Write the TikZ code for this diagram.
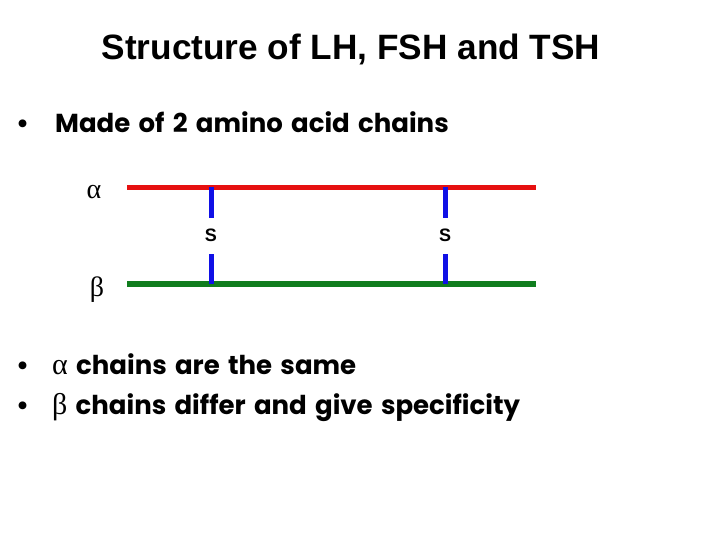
\documentclass[tikz,border=0pt]{standalone}
\usepackage{fontspec}
\setmainfont{Liberation Sans}
\newfontfamily\bodyfont{Poppins}[WordSpace=1.5]
\newfontfamily\greekfont{Liberation Serif}
\definecolor{chainred}{RGB}{230,16,16}
\definecolor{chaingreen}{RGB}{16,125,30}
\definecolor{bondblue}{RGB}{16,16,230}
\begin{document}
\begin{tikzpicture}[x=1pt,y=-1pt,
  title/.style={font=\fontsize{35.2}{38}\selectfont\bfseries, anchor=base},
  body/.style={font=\bodyfont\bfseries\fontsize{26}{28}\selectfont, anchor=base west, inner sep=0pt},
  bul/.style={font=\bodyfont\bfseries\fontsize{26}{28}\selectfont, anchor=base west, inner sep=0pt},
  greek/.style={font=\greekfont\fontsize{28}{30}\selectfont, inner sep=0pt},
  chain/.style={line width=5.5pt},
  bond/.style={line width=5pt, bondblue},
  slabel/.style={font=\fontsize{18}{20}\selectfont\bfseries, inner sep=0pt}]
\useasboundingbox (0,0) rectangle (720,540);
\node[title] (t) at (351,60) {Structure of LH, FSH and TSH};
\node[bul] (b1) at (16,133) {•};
\node[body] (l1) at (55,133) {Made of 2 amino acid chains};
\node[greek] (al) at (94,192) {α};
\node[greek] (be) at (97,290) {β};
\coordinate (r1) at (127,187.5);
\coordinate (r2) at (536,187.5);
\coordinate (g1) at (127,284);
\coordinate (g2) at (536,284);
\draw[chain, chainred] (r1) -- (r2);
\draw[chain, chaingreen] (g1) -- (g2);
\node[slabel] (s1) at (211,235) {S};
\node[slabel] (s2) at (445,235) {S};
\coordinate (a1) at (211,187.5);
\coordinate (a2) at (445,187.5);
\coordinate (c1) at (211,284);
\coordinate (c2) at (445,284);
\draw[bond] (a1) -- (211,218);
\draw[bond] (211,254) -- (c1);
\draw[bond] (a2) -- (445,218);
\draw[bond] (445,254) -- (c2);
\node[bul] (b2) at (16,374) {•};
\node[body] (l2) at (52,374) {{\greekfont\mdseries\fontsize{30}{30}\selectfont α} chains are the same};
\node[bul] (b3) at (16,414) {•};
\node[body] (l3) at (52,414) {{\greekfont\mdseries\fontsize{30}{30}\selectfont β} chains differ and give specificity};
\end{tikzpicture}
\end{document}
